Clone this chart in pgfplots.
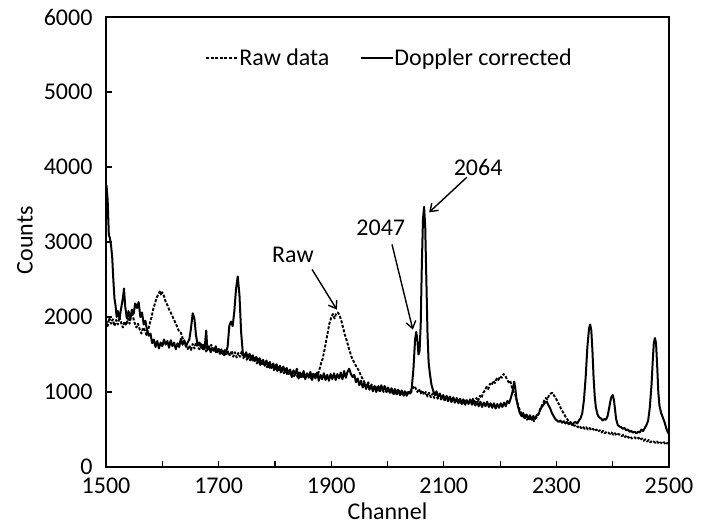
\documentclass[border=0pt]{standalone}
\usepackage{pgfplots}
\pgfplotsset{compat=1.18}
\usepackage{fontspec}
\setmainfont{Carlito}
\usetikzlibrary{arrows.meta}

\begin{document}
\begin{tikzpicture}[font=\fontsize{24bp}{28bp}\selectfont]
\begin{axis}[
  scale only axis, width=563bp, height=450bp,
  xmin=1500, xmax=2500, ymin=0, ymax=6000,
  font=\fontsize{24bp}{28bp}\selectfont,
  tick label style={font=\fontsize{24bp}{28bp}\selectfont},
  xtick={1500,1600,...,2500},
  xticklabels={1500,,1700,,1900,,2100,,2300,,2500},
  ytick={0,1000,...,6000},
  yticklabels={0,1000,2000,3000,4000,5000,6000},
  xtick pos=bottom, ytick pos=left, tick align=inside,
  major tick length=6bp,
  every tick/.style={black, line width=1.2bp},
  axis line style={line width=1.3bp},
  /pgf/number format/assume math mode=true,
  yticklabel style={xshift=-10bp},
  xticklabel style={yshift=-7bp},
  xlabel={Channel}, ylabel={Counts},
  xlabel style={anchor=center, at={(axis description cs:0.5,-0.098)}},
  ylabel style={anchor=center, at={(axis description cs:-0.144,0.504)}},
  legend style={draw=none, fill=none, at={(axis description cs:0.502,0.909)}, anchor=center,
    inner xsep=0pt, nodes={inner xsep=0.5bp},
    /tikz/every even column/.append style={column sep=30bp}},
  legend columns=2,
  legend image code/.code={\draw[#1] (0bp,0bp) -- (32bp,0bp);},
]
\addplot[black, line width=1.9bp, line join=round, dash pattern=on 3bp off 1.6bp] table {
1500 1950
1503 1880
1506 1990
1509 1910
1512 1970
1515 1880
1518 1960
1521 1900
1524 2000
1527 1920
1530 1860
1533 1940
1536 1890
1539 1980
1542 1910
1545 2060
1548 2000
1551 1920
1554 1860
1557 1910
1560 1830
1563 1780
1566 1860
1569 1820
1572 1760
1575 1830
1578 1920
1581 2000
1584 2110
1587 2180
1590 2260
1593 2300
1596 2350
1598 2290
1600 2330
1603 2280
1606 2200
1609 2160
1612 2100
1615 2060
1618 2010
1621 1960
1624 1910
1627 1860
1630 1800
1633 1790
1636 1720
1639 1670
1642 1610
1645 1570
1648 1620
1651 1560
1654 1640
1657 1580
1660 1660
1663 1600
1666 1570
1669 1640
1672 1560
1675 1620
1678 1540
1681 1600
1684 1560
1687 1630
1690 1540
1693 1580
1696 1520
1699 1590
1702 1510
1705 1570
1708 1500
1711 1560
1714 1490
1717 1540
1720 1480
1723 1550
1726 1470
1729 1530
1732 1460
1735 1520
1738 1470
1741 1540
1744 1450
1747 1500
1750 1430
1753 1490
1756 1420
1759 1480
1762 1400
1765 1460
1768 1380
1771 1440
1774 1360
1777 1420
1780 1350
1783 1410
1786 1330
1789 1390
1792 1310
1795 1370
1798 1290
1801 1360
1804 1280
1807 1340
1810 1260
1813 1320
1816 1250
1819 1310
1822 1230
1825 1290
1828 1220
1831 1280
1834 1210
1837 1270
1840 1200
1843 1260
1846 1190
1849 1250
1852 1180
1855 1240
1858 1190
1861 1250
1864 1180
1867 1240
1870 1200
1873 1260
1876 1220
1879 1300
1882 1380
1885 1450
1888 1560
1891 1680
1894 1800
1897 1920
1900 1990
1903 2040
1906 1980
1909 2050
1912 2060
1915 2020
1918 1950
1921 1860
1924 1770
1927 1700
1930 1620
1933 1540
1936 1470
1939 1420
1942 1380
1945 1330
1948 1300
1951 1250
1954 1200
1957 1160
1960 1110
1963 1080
1966 1130
1969 1050
1972 1100
1975 1030
1978 1090
1981 1020
1984 1080
1987 1010
1990 1070
1993 1000
1996 1060
1999 990
2002 1050
2005 980
2008 1040
2011 970
2014 1030
2017 970
2020 1020
2023 960
2026 1010
2029 950
2032 1000
2035 960
2038 1020
2041 970
2044 1040
2047 1080
2050 1050
2053 1000
2056 1040
2059 980
2062 1020
2065 960
2068 1000
2071 940
2074 990
2077 930
2080 980
2083 920
2086 970
2089 910
2092 960
2095 900
2098 950
2101 890
2104 940
2107 880
2110 930
2113 870
2116 920
2119 860
2122 910
2125 860
2128 900
2131 850
2134 900
2137 840
2140 890
2143 850
2146 900
2149 860
2152 910
2155 870
2158 920
2161 880
2164 950
2167 920
2170 990
2173 1020
2176 1070
2179 1040
2182 1110
2185 1090
2188 1150
2191 1120
2194 1180
2197 1160
2200 1210
2203 1190
2206 1240
2209 1220
2212 1170
2215 1130
2218 1150
2221 1060
2224 1000
2227 960
2230 880
2233 800
2236 740
2239 700
2242 660
2245 690
2248 630
2251 670
2254 620
2257 660
2260 610
2263 650
2266 680
2269 720
2272 790
2275 830
2278 880
2281 920
2284 900
2287 960
2290 980
2293 990
2296 950
2299 920
2302 870
2305 830
2308 780
2311 740
2314 700
2317 660
2320 630
2323 600
2326 580
2329 560
2332 550
2335 560
2338 530
2341 550
2344 520
2347 540
2350 510
2353 530
2356 500
2359 520
2362 490
2365 510
2368 480
2371 500
2374 470
2377 490
2380 460
2383 480
2386 450
2389 470
2392 460
2395 440
2398 460
2401 430
2404 450
2407 420
2410 440
2413 430
2416 410
2419 430
2422 400
2425 420
2428 390
2431 410
2434 380
2437 400
2440 390
2443 370
2446 390
2449 360
2452 380
2455 350
2458 370
2461 340
2464 360
2467 330
2470 350
2473 340
2476 320
2479 340
2482 310
2485 330
2488 310
2491 330
2494 300
2497 320
2500 310
};
\addlegendentry{Raw data}
\addplot[black, line width=2bp, line join=round] table {
1500 3300
1501 3750
1503 3550
1505 3100
1507 3050
1509 2950
1511 2800
1513 2500
1515 2250
1517 2150
1519 2000
1521 2080
1524 1980
1527 2120
1530 2250
1532 2380
1534 2150
1537 1980
1540 2080
1543 1960
1546 2100
1549 2040
1552 2180
1555 2120
1558 2200
1561 2000
1564 2060
1567 1900
1570 1950
1573 1820
1576 1750
1579 1780
1582 1650
1585 1700
1588 1600
1591 1680
1594 1580
1597 1660
1600 1610
1603 1700
1606 1630
1609 1680
1612 1590
1615 1690
1618 1610
1621 1660
1624 1570
1627 1650
1630 1600
1633 1710
1636 1630
1639 1690
1642 1610
1645 1660
1648 1700
1651 1850
1654 2050
1657 1980
1660 1750
1663 1620
1666 1660
1669 1590
1672 1630
1675 1570
1678 1820
1680 1560
1683 1610
1686 1530
1689 1590
1692 1550
1695 1610
1698 1530
1701 1570
1704 1510
1707 1550
1710 1490
1713 1530
1716 1600
1719 1880
1722 1940
1725 1880
1728 2080
1731 2380
1734 2540
1737 2300
1740 1800
1743 1520
1746 1470
1749 1530
1752 1450
1755 1510
1758 1430
1761 1490
1764 1410
1767 1470
1770 1390
1773 1450
1776 1370
1779 1430
1782 1350
1785 1420
1788 1330
1791 1400
1794 1320
1797 1380
1800 1300
1803 1370
1806 1290
1809 1350
1812 1270
1815 1340
1818 1260
1821 1320
1824 1240
1827 1300
1830 1200
1833 1290
1836 1230
1839 1310
1842 1180
1845 1260
1848 1200
1851 1280
1854 1170
1857 1250
1860 1190
1863 1270
1866 1160
1869 1240
1872 1180
1875 1260
1878 1150
1881 1230
1884 1170
1887 1250
1890 1160
1893 1230
1896 1150
1899 1240
1902 1170
1905 1250
1908 1160
1911 1240
1914 1180
1917 1260
1920 1170
1923 1280
1926 1190
1929 1270
1932 1310
1935 1240
1938 1200
1941 1230
1944 1130
1947 1180
1950 1090
1953 1150
1956 1060
1959 1120
1962 1040
1965 1110
1968 1030
1971 1090
1974 1010
1977 1080
1980 1000
1983 1070
1986 1010
1989 1090
1992 1020
1995 1080
1998 1000
2001 1060
2004 990
2007 1050
2010 980
2013 1040
2016 970
2019 1030
2022 960
2025 1020
2028 960
2031 1010
2034 950
2037 1000
2040 980
2043 1050
2046 1300
2049 1700
2051 1800
2053 1700
2055 1500
2057 1550
2059 1900
2061 2700
2063 3300
2065 3470
2067 3200
2069 2500
2071 1800
2073 1400
2075 1260
2078 1100
2081 1020
2084 960
2087 1010
2090 930
2093 980
2096 910
2099 960
2102 890
2105 950
2108 880
2111 940
2114 870
2117 930
2120 860
2123 920
2126 850
2129 910
2132 840
2135 900
2138 830
2141 890
2144 840
2147 900
2150 830
2153 880
2156 820
2159 870
2162 810
2165 870
2168 800
2171 860
2174 810
2177 870
2180 800
2183 850
2186 790
2189 850
2192 780
2195 840
2198 790
2201 850
2204 800
2207 860
2210 810
2213 880
2216 850
2219 920
2222 1000
2225 1140
2227 1050
2229 900
2232 800
2235 720
2238 680
2241 720
2244 650
2247 700
2250 640
2253 690
2256 630
2259 680
2262 640
2265 690
2268 700
2271 760
2274 800
2277 830
2280 860
2283 870
2286 820
2289 780
2292 720
2295 680
2298 640
2301 620
2304 600
2307 620
2310 590
2313 610
2316 580
2319 600
2322 570
2325 600
2328 560
2331 590
2334 600
2337 580
2340 620
2343 650
2346 720
2349 900
2352 1200
2355 1600
2358 1850
2360 1900
2362 1820
2364 1550
2366 1200
2368 950
2370 800
2373 700
2376 660
2379 650
2382 620
2385 640
2388 630
2391 680
2394 800
2397 920
2400 960
2402 900
2404 780
2406 640
2409 560
2412 540
2415 530
2418 510
2421 520
2424 490
2427 500
2430 470
2433 480
2436 460
2439 470
2442 450
2445 470
2448 460
2451 500
2454 480
2457 520
2460 560
2463 620
2466 800
2469 1100
2471 1400
2473 1650
2475 1720
2477 1650
2479 1350
2481 1000
2483 820
2486 720
2489 660
2492 600
2495 520
2498 460
2500 440
};
\addlegendentry{Doppler corrected}
\node at (axis cs:1832,2834) {Raw};
\node at (axis cs:1988,3195) {2047};
\node at (axis cs:2161,3997) {2064};
\draw[line width=1.4bp, -{Straight Barb[length=7bp,width=10bp]}] (axis cs:1866,2634) -- (axis cs:1910,2099);
\draw[line width=1.4bp, -{Straight Barb[length=7bp,width=10bp]}] (axis cs:2008,2968) -- (axis cs:2045,1832);
\draw[line width=1.4bp, -{Straight Barb[length=7bp,width=10bp]}] (axis cs:2141,3864) -- (axis cs:2074,3396);
\coordinate (sw) at (rel axis cs:0,0);
\coordinate (ne) at (rel axis cs:1,1);
\end{axis}
\pgfresetboundingbox
\path[use as bounding box] ([xshift=-106bp,yshift=-60bp]sw) rectangle ([xshift=40bp,yshift=17bp]ne);
\end{tikzpicture}
\end{document}
